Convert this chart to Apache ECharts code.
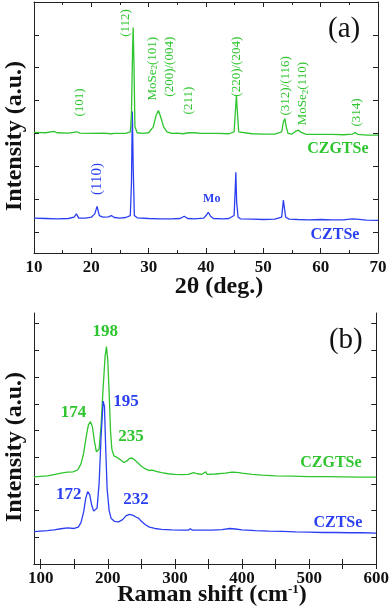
<!DOCTYPE html>
<html>
<head>
<meta charset="utf-8">
<script src="https://cdn.jsdelivr.net/npm/echarts@6/dist/echarts.min.js"></script>
<style>
html, body { margin: 0; padding: 0; background: #fff; }
#main { width: 392px; height: 612px; }
</style>
</head>
<body>
<div id="main"></div>
<script>
// ---- data (a): XRD, 2theta vs intensity (offset, a.u.)
const xrdCZGTSe = [
    [10, 4.03], [12, 4.02], [13.5, 4.06], [14, 4.02], [16, 4.01], [17.5, 4.05], [18, 4.01], [20, 4.0], [22, 4.01],
    [23.5, 3.99], [24, 4.0], [26, 4.0], [26.8, 4.05], [27.0, 4.6], [27.2, 6.6], [27.3, 7.22], [27.45, 6.0],
    [27.6, 4.2], [28, 4.02], [29, 4.0], [30, 4.02], [30.8, 4.2], [31.3, 4.55], [31.7, 4.7], [32.1, 4.5],
    [32.6, 4.2], [33.2, 4.05], [34, 4.0], [35, 4.01], [36, 3.99], [37, 4.02], [38, 4.02], [39, 4.0], [40, 4.0],
    [42, 4.0], [44, 3.99], [44.9, 4.05], [45.1, 4.6], [45.3, 5.15], [45.5, 4.6], [45.7, 4.05], [46, 3.99],
    [48, 3.99], [50, 3.98], [52, 3.98], [53.2, 4.05], [53.5, 4.35], [53.75, 4.45], [54.0, 4.2], [54.3, 4.0],
    [55, 3.98], [55.6, 4.06], [56.1, 4.1], [56.6, 4.03], [57.5, 3.97], [60, 3.97], [62, 3.97], [64, 3.96],
    [65.6, 3.98], [66.0, 4.03], [66.5, 3.97], [68, 3.95], [70, 3.95]
];
const xrdCZTSe = [
    [10, 1.42], [12, 1.41], [14, 1.40], [16, 1.41], [17.0, 1.45], [17.4, 1.55], [17.8, 1.42], [19, 1.42],
    [20, 1.45], [20.6, 1.55], [21.0, 1.78], [21.4, 1.5], [22, 1.45], [23, 1.46], [23.5, 1.5], [24, 1.44],
    [25, 1.42], [26, 1.44], [26.8, 1.5], [27.0, 2.5], [27.15, 4.67], [27.3, 3.0], [27.5, 1.5], [28, 1.43],
    [30, 1.41], [32, 1.40], [34, 1.4], [35.5, 1.41], [36.2, 1.48], [36.8, 1.41], [38, 1.4], [39.6, 1.42],
    [40.0, 1.5], [40.4, 1.6], [40.8, 1.48], [41.3, 1.41], [43, 1.40], [44, 1.41], [44.9, 1.5], [45.1, 2.3],
    [45.2, 2.82], [45.35, 1.9], [45.6, 1.45], [46, 1.40], [48, 1.39], [50, 1.38], [52, 1.39], [53.2, 1.45],
    [53.5, 1.97], [53.7, 1.7], [53.9, 1.45], [54.5, 1.39], [56, 1.38], [58, 1.37], [60, 1.38], [62, 1.37],
    [64, 1.37], [65.5, 1.4], [65.8, 1.46], [66.2, 1.39], [68, 1.36], [70, 1.35]
];

// ---- data (b): Raman shift vs intensity
const ramanCZGTSe = [
    [90, 3.26], [100, 3.28], [110, 3.3], [120, 3.35], [130, 3.4], [140, 3.44], [148, 3.45], [155, 3.52],
    [160, 3.75], [164, 4.15], [168, 4.8], [171, 5.2], [174, 5.33], [177, 5.15], [180, 4.6], [183, 4.2],
    [185, 4.17], [187, 4.3], [190, 5.2], [193, 6.6], [196, 7.8], [198, 8.14], [200, 7.6], [202, 6.4],
    [204, 5.0], [206, 4.3], [209, 4.05], [213, 4.0], [218, 3.92], [224, 3.8], [228, 3.85], [232, 3.95],
    [236, 3.97], [240, 3.9], [245, 3.78], [250, 3.66], [256, 3.56], [262, 3.5], [266, 3.52], [272, 3.47],
    [280, 3.42], [290, 3.38], [300, 3.36], [310, 3.35], [320, 3.36], [328, 3.42], [333, 3.38], [340, 3.36],
    [346, 3.45], [348, 3.36], [360, 3.37], [375, 3.4], [385, 3.44], [392, 3.43], [400, 3.4], [415, 3.36],
    [430, 3.33], [450, 3.3], [475, 3.29], [500, 3.27], [525, 3.27], [550, 3.26], [575, 3.25], [600, 3.25]
];
const ramanCZTSe = [
    [90, 1.21], [100, 1.23], [110, 1.25], [120, 1.28], [130, 1.32], [140, 1.35], [150, 1.33], [156, 1.38],
    [160, 1.55], [164, 1.95], [167, 2.45], [170, 2.71], [173, 2.6], [176, 2.2], [179, 1.98], [181, 1.96],
    [184, 2.1], [187, 3.0], [190, 4.8], [193, 6.1], [195, 5.9], [197, 4.2], [199, 2.8], [202, 2.0],
    [205, 1.7], [210, 1.6], [216, 1.58], [222, 1.66], [227, 1.8], [232, 1.86], [237, 1.83], [242, 1.76],
    [246, 1.71], [250, 1.6], [256, 1.47], [262, 1.38], [270, 1.33], [280, 1.3], [295, 1.28], [310, 1.27],
    [320, 1.27], [323, 1.32], [326, 1.27], [340, 1.27], [355, 1.27], [370, 1.29], [382, 1.33], [390, 1.31],
    [400, 1.28], [420, 1.25], [440, 1.23], [460, 1.22], [480, 1.2], [500, 1.19], [520, 1.18], [540, 1.18],
    [560, 1.17], [580, 1.17], [600, 1.16]
];

// tick values
const xrdYTicks = [1, 2, 3, 4, 5, 6, 7];
const ramanXTicks = [100, 150, 200, 250, 300, 350, 400, 450, 500, 550, 600];
const ramanXLabels = [100, 200, 300, 400, 500, 600];
const ramanYTicks = [1, 2, 3, 4, 5, 6, 7, 8, 9];

// annotation labels: [x, y, text, color, kind]
const xrdLabels = [
    [18.0, 4.94, '(101)', 'g', 'rot'],
    [25.9, 7.36, '(112)', 'g', 'rot'],
    [30.6, 5.97, '{n|MoSe}{sub|2}{n|(101)}', 'g', 'rot'],
    [33.7, 6.03, '(200)/(004)', 'g', 'rot'],
    [36.9, 5.0, '(211)', 'g', 'rot'],
    [45.4, 6.03, '(220)/(204)', 'g', 'rot'],
    [53.8, 5.45, '(312)/(116)', 'g', 'rot'],
    [56.9, 5.21, '{n|MoSe}{sub|2}{n|(110)}', 'g', 'rot'],
    [66.2, 4.64, '(314)', 'g', 'rot'],
    [21.0, 2.61, '(110)', 'b', 'rotBig'],
    [41.0, 2.0, 'Mo', 'b', 'small'],
    [63.0, 3.52, 'CZGTSe', 'g', 'name'],
    [62.5, 0.91, 'CZTSe', 'b', 'name'],
    [64.1, 7.18, '(a)', 'k', 'panel']
];
const ramanLabels = [
    [196.2, 8.69, '198', 'g', 'peak'],
    [149, 5.66, '174', 'g', 'peak'],
    [227.2, 6.07, '195', 'b', 'peak'],
    [234.5, 4.76, '235', 'g', 'peak'],
    [141.6, 2.58, '172', 'b', 'peak'],
    [241.9, 2.40, '232', 'b', 'peak'],
    [532.5, 3.78, 'CZGTSe', 'g', 'name'],
    [542.8, 1.54, 'CZTSe', 'b', 'name'],
    [554.6, 8.39, '(b)', 'k', 'panel']
];

const GREEN = '#2ec52e';
const BLUE = '#2b3ff2';
const FONT = '"Liberation Serif", "Times New Roman", serif';
const colorOf = { g: GREEN, b: BLUE, k: '#111' };

let chart = echarts.init(document.getElementById('main'), null, { renderer: 'canvas' });

const axisLine = { show: true, lineStyle: { color: '#222', width: 1 } };

function xAx(gridIndex, pos, min, max, extra) {
    return Object.assign({
        type: 'value', gridIndex: gridIndex, position: pos, min: min, max: max,
        axisLine: axisLine,
        axisTick: { inside: true, length: 5, lineStyle: { color: '#222' } },
        axisLabel: pos === 'bottom' ? { show: true, margin: 6, color: '#111', fontFamily: FONT, fontWeight: 'bold', fontSize: 17 } : { show: false },
        splitLine: { show: false }
    }, extra);
}
function yAx(gridIndex, pos, min, max, ticks) {
    return {
        type: 'value', gridIndex: gridIndex, position: pos, min: min, max: max,
        axisLine: axisLine,
        axisTick: { inside: true, length: 5, customValues: ticks, lineStyle: { color: '#222' } },
        axisLabel: { show: false },
        splitLine: { show: false }
    };
}

const xrdXExtra = {
    interval: 10,
    minorTick: { show: true, splitNumber: 2, length: 3, lineStyle: { color: '#222' } },
    minorSplitLine: { show: false }
};
const ramanXExtraBottom = {
    axisTick: { inside: true, length: 5, customValues: ramanXTicks, lineStyle: { color: '#222' } },
    axisLabel: { show: true, margin: 6, color: '#111', fontFamily: FONT, fontWeight: 'bold', fontSize: 17, customValues: ramanXLabels }
};
const ramanXExtraTop = {
    axisTick: { inside: true, length: 5, customValues: ramanXTicks, lineStyle: { color: '#222' } }
};

function lineSeries(data, color, xi, yi, z) {
    return {
        type: 'line', data: data, xAxisIndex: xi, yAxisIndex: yi, showSymbol: false, z: z,
        lineStyle: { color: color, width: 1.3 }, silent: true
    };
}

let option = {
    animation: false,
    backgroundColor: '#fff',
    grid: [
        { left: 34, top: 2, width: 344, height: 251 },
        { left: 34, top: 313, width: 344, height: 251 }
    ],
    xAxis: [
        xAx(0, 'bottom', 10, 70, xrdXExtra),
        xAx(0, 'top', 10, 70, xrdXExtra),
        xAx(1, 'bottom', 90, 600, ramanXExtraBottom),
        xAx(1, 'top', 90, 600, ramanXExtraTop)
    ],
    yAxis: [
        yAx(0, 'left', 0.36, 8.0, xrdYTicks),
        yAx(0, 'right', 0.36, 8.0, xrdYTicks),
        yAx(1, 'left', 0, 9.4, ramanYTicks),
        yAx(1, 'right', 0, 9.4, ramanYTicks)
    ],
    series: [
        lineSeries(xrdCZTSe, BLUE, 0, 0, 2),
        lineSeries(xrdCZGTSe, GREEN, 0, 0, 3),
        lineSeries(ramanCZGTSe, GREEN, 2, 2, 2),
        lineSeries(ramanCZTSe, BLUE, 2, 2, 3)
    ]
};

chart.setOption(option);

// 标注文字：由数据坐标换算到像素
function labelGraphic(lab, xi, yi) {
    const p = chart.convertToPixel({ xAxisIndex: xi, yAxisIndex: yi }, [lab[0], lab[1]]);
    const color = colorOf[lab[3]];
    const kind = lab[4];
    let style = { text: lab[2], fill: color, fontFamily: FONT, align: 'center', verticalAlign: 'middle' };
    let rotation = 0;
    if (kind === 'rot' || kind === 'rotBig') {
        rotation = Math.PI / 2;
        style.fontSize = kind === 'rot' ? 13 : 15;
        style.rich = {
            n: { fontFamily: FONT, fontSize: 13, fill: color },
            sub: { fontFamily: FONT, fontSize: 9, fill: color, verticalAlign: 'bottom', padding: [6, 0, 0, 0] }
        };
    } else if (kind === 'small') {
        style.fontSize = 12; style.fontWeight = 'bold';
    } else if (kind === 'name') {
        style.fontSize = 16; style.fontWeight = 'bold';
    } else if (kind === 'peak') {
        style.fontSize = 17; style.fontWeight = 'bold';
    } else if (kind === 'panel') {
        style.fontSize = 29;
    }
    return { type: 'text', x: p[0], y: p[1], rotation: rotation, style: style, z: 10 };
}

let graphics = [];
xrdLabels.forEach(function (l) { graphics.push(labelGraphic(l, 0, 0)); });
ramanLabels.forEach(function (l) { graphics.push(labelGraphic(l, 2, 2)); });

// 轴标题
graphics.push({ type: 'text', x: 219, y: 287, style: { text: '2\u03b8 (deg.)', fontFamily: FONT, fontWeight: 'bold', fontSize: 24, fill: '#111', align: 'center', verticalAlign: 'middle' } });
graphics.push({
    type: 'text', x: 212, y: 595,
    style: {
        text: '{m|Raman shift (cm}{s|-1}{m|)}', align: 'center', verticalAlign: 'middle',
        rich: {
            m: { fontFamily: FONT, fontWeight: 'bold', fontSize: 24, fill: '#111' },
            s: { fontFamily: FONT, fontWeight: 'bold', fontSize: 13, fill: '#111', verticalAlign: 'top' }
        }
    }
});
graphics.push({ type: 'text', x: 15, y: 136, rotation: Math.PI / 2, style: { text: 'Intensity (a.u.)', fontFamily: FONT, fontWeight: 'bold', fontSize: 24, fill: '#111', align: 'center', verticalAlign: 'middle' } });
graphics.push({ type: 'text', x: 15, y: 447, rotation: Math.PI / 2, style: { text: 'Intensity (a.u.)', fontFamily: FONT, fontWeight: 'bold', fontSize: 24, fill: '#111', align: 'center', verticalAlign: 'middle' } });

chart.setOption({ graphic: graphics });
</script>
</body>
</html>
